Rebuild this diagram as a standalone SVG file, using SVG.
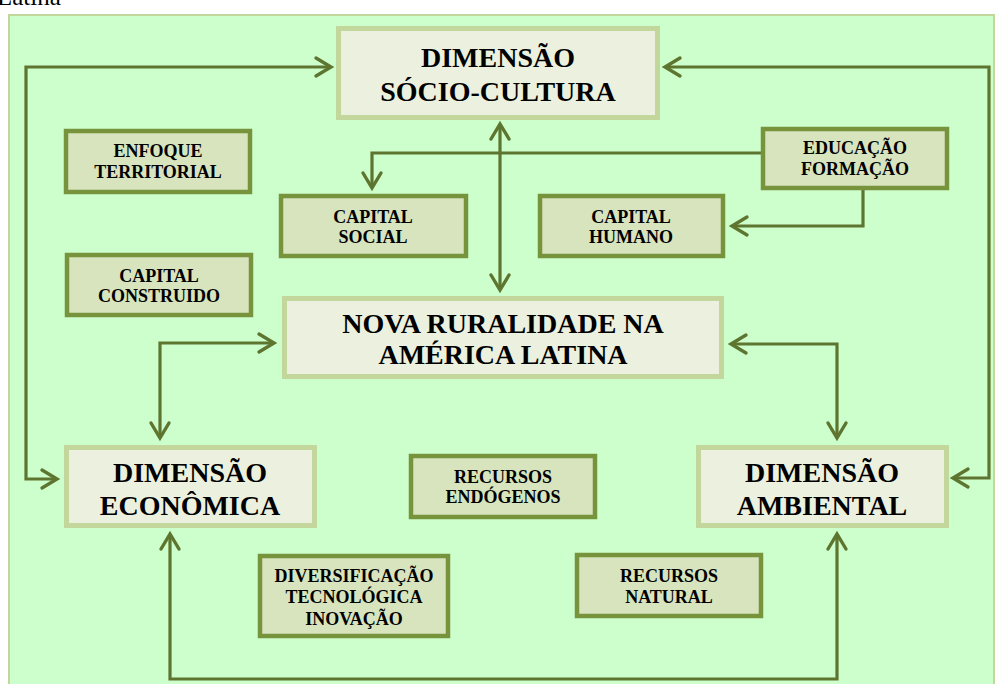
<svg xmlns="http://www.w3.org/2000/svg" width="998" height="684" viewBox="0 0 998 684">
<defs>
<style>
.big rect{fill:#EBF1DE;stroke:#C3D69B;stroke-width:5}
.small rect{fill:#D7E4BD;stroke:#77933C;stroke-width:4.5}
.big text{font-family:"Liberation Serif",serif;font-weight:bold;font-size:28px;text-anchor:middle;fill:#000}
.small text{font-family:"Liberation Serif",serif;font-weight:bold;font-size:18px;text-anchor:middle;fill:#000}
#connectors path{fill:none;stroke:#5E7530;stroke-width:3.2;stroke-linejoin:miter}
.arr{marker-end:url(#ah)}
.bi{marker-start:url(#ah);marker-end:url(#ah)}
</style>
<marker id="ah" markerUnits="userSpaceOnUse" viewBox="-20 -12 24 24" refX="0" refY="0" markerWidth="24" markerHeight="24" orient="auto-start-reverse" overflow="visible">
<path d="M -15 -9 L 0 0 L -15 9" fill="none" stroke="#5E7530" stroke-width="3.4" stroke-linecap="round" stroke-linejoin="miter"/>
</marker>
</defs>
<rect x="0" y="0" width="998" height="684" fill="#FFFFFF"/>
<text x="-3" y="5" font-family="Liberation Serif, serif" font-size="25" fill="#000">Latina</text>
<rect x="9" y="15" width="985" height="680" fill="#CCFFCC" stroke="#C3D69B" stroke-width="2"/>

<g id="connectors">
<path class="bi" d="M 57 479 H 26 V 67 H 331"/>
<path class="bi" d="M 665 67 H 989 V 478 H 953"/>
<path class="bi" d="M 500 124 V 290"/>
<path class="arr" d="M 761 153 H 372 V 188"/>
<path class="arr" d="M 863 190 V 226 H 732"/>
<path class="bi" d="M 274 343 H 160 V 438"/>
<path class="bi" d="M 731 344 H 837 V 438"/>
<path class="bi" d="M 170 534 V 679 H 837 V 534"/>
</g>

<g id="socio" class="big">
<rect x="338.5" y="28.5" width="319" height="89"/>
<text x="498" y="67" font-size="27">DIMENSÃO</text>
<text x="498" y="101" font-size="27">SÓCIO-CULTURA</text>
</g>
<g id="nova" class="big">
<rect x="284.5" y="298.5" width="437" height="78"/>
<text x="503" y="333">NOVA RURALIDADE NA</text>
<text x="503" y="364">AMÉRICA LATINA</text>
</g>
<g id="economica" class="big">
<rect x="66.5" y="447.5" width="248" height="78"/>
<text x="190" y="482">DIMENSÃO</text>
<text x="190" y="515">ECONÔMICA</text>
</g>
<g id="ambiental" class="big">
<rect x="698.5" y="447.5" width="248" height="78"/>
<text x="822" y="482">DIMENSÃO</text>
<text x="822" y="515">AMBIENTAL</text>
</g>

<g id="enfoque" class="small">
<rect x="66" y="131" width="184" height="61"/>
<text x="158" y="157">ENFOQUE</text>
<text x="158" y="178">TERRITORIAL</text>
</g>
<g id="capital-social" class="small">
<rect x="281" y="196" width="185" height="60"/>
<text x="373" y="223">CAPITAL</text>
<text x="373" y="243">SOCIAL</text>
</g>
<g id="capital-construido" class="small">
<rect x="67" y="255" width="184" height="60"/>
<text x="159" y="282">CAPITAL</text>
<text x="159" y="302">CONSTRUIDO</text>
</g>
<g id="educacao" class="small">
<rect x="763" y="129" width="184" height="59"/>
<text x="855" y="154">EDUCAÇÃO</text>
<text x="855" y="175">FORMAÇÃO</text>
</g>
<g id="capital-humano" class="small">
<rect x="540" y="196" width="183" height="60"/>
<text x="631" y="223">CAPITAL</text>
<text x="631" y="243">HUMANO</text>
</g>
<g id="endogenos" class="small">
<rect x="411" y="456" width="184" height="61"/>
<text x="503" y="483">RECURSOS</text>
<text x="503" y="503">ENDÓGENOS</text>
</g>
<g id="diversificacao" class="small">
<rect x="260" y="556" width="188" height="80"/>
<text x="354" y="582">DIVERSIFICAÇÃO</text>
<text x="354" y="603">TECNOLÓGICA</text>
<text x="354" y="625">INOVAÇÃO</text>
</g>
<g id="natural" class="small">
<rect x="577" y="555" width="184" height="61"/>
<text x="669" y="582">RECURSOS</text>
<text x="669" y="603">NATURAL</text>
</g>
</svg>
